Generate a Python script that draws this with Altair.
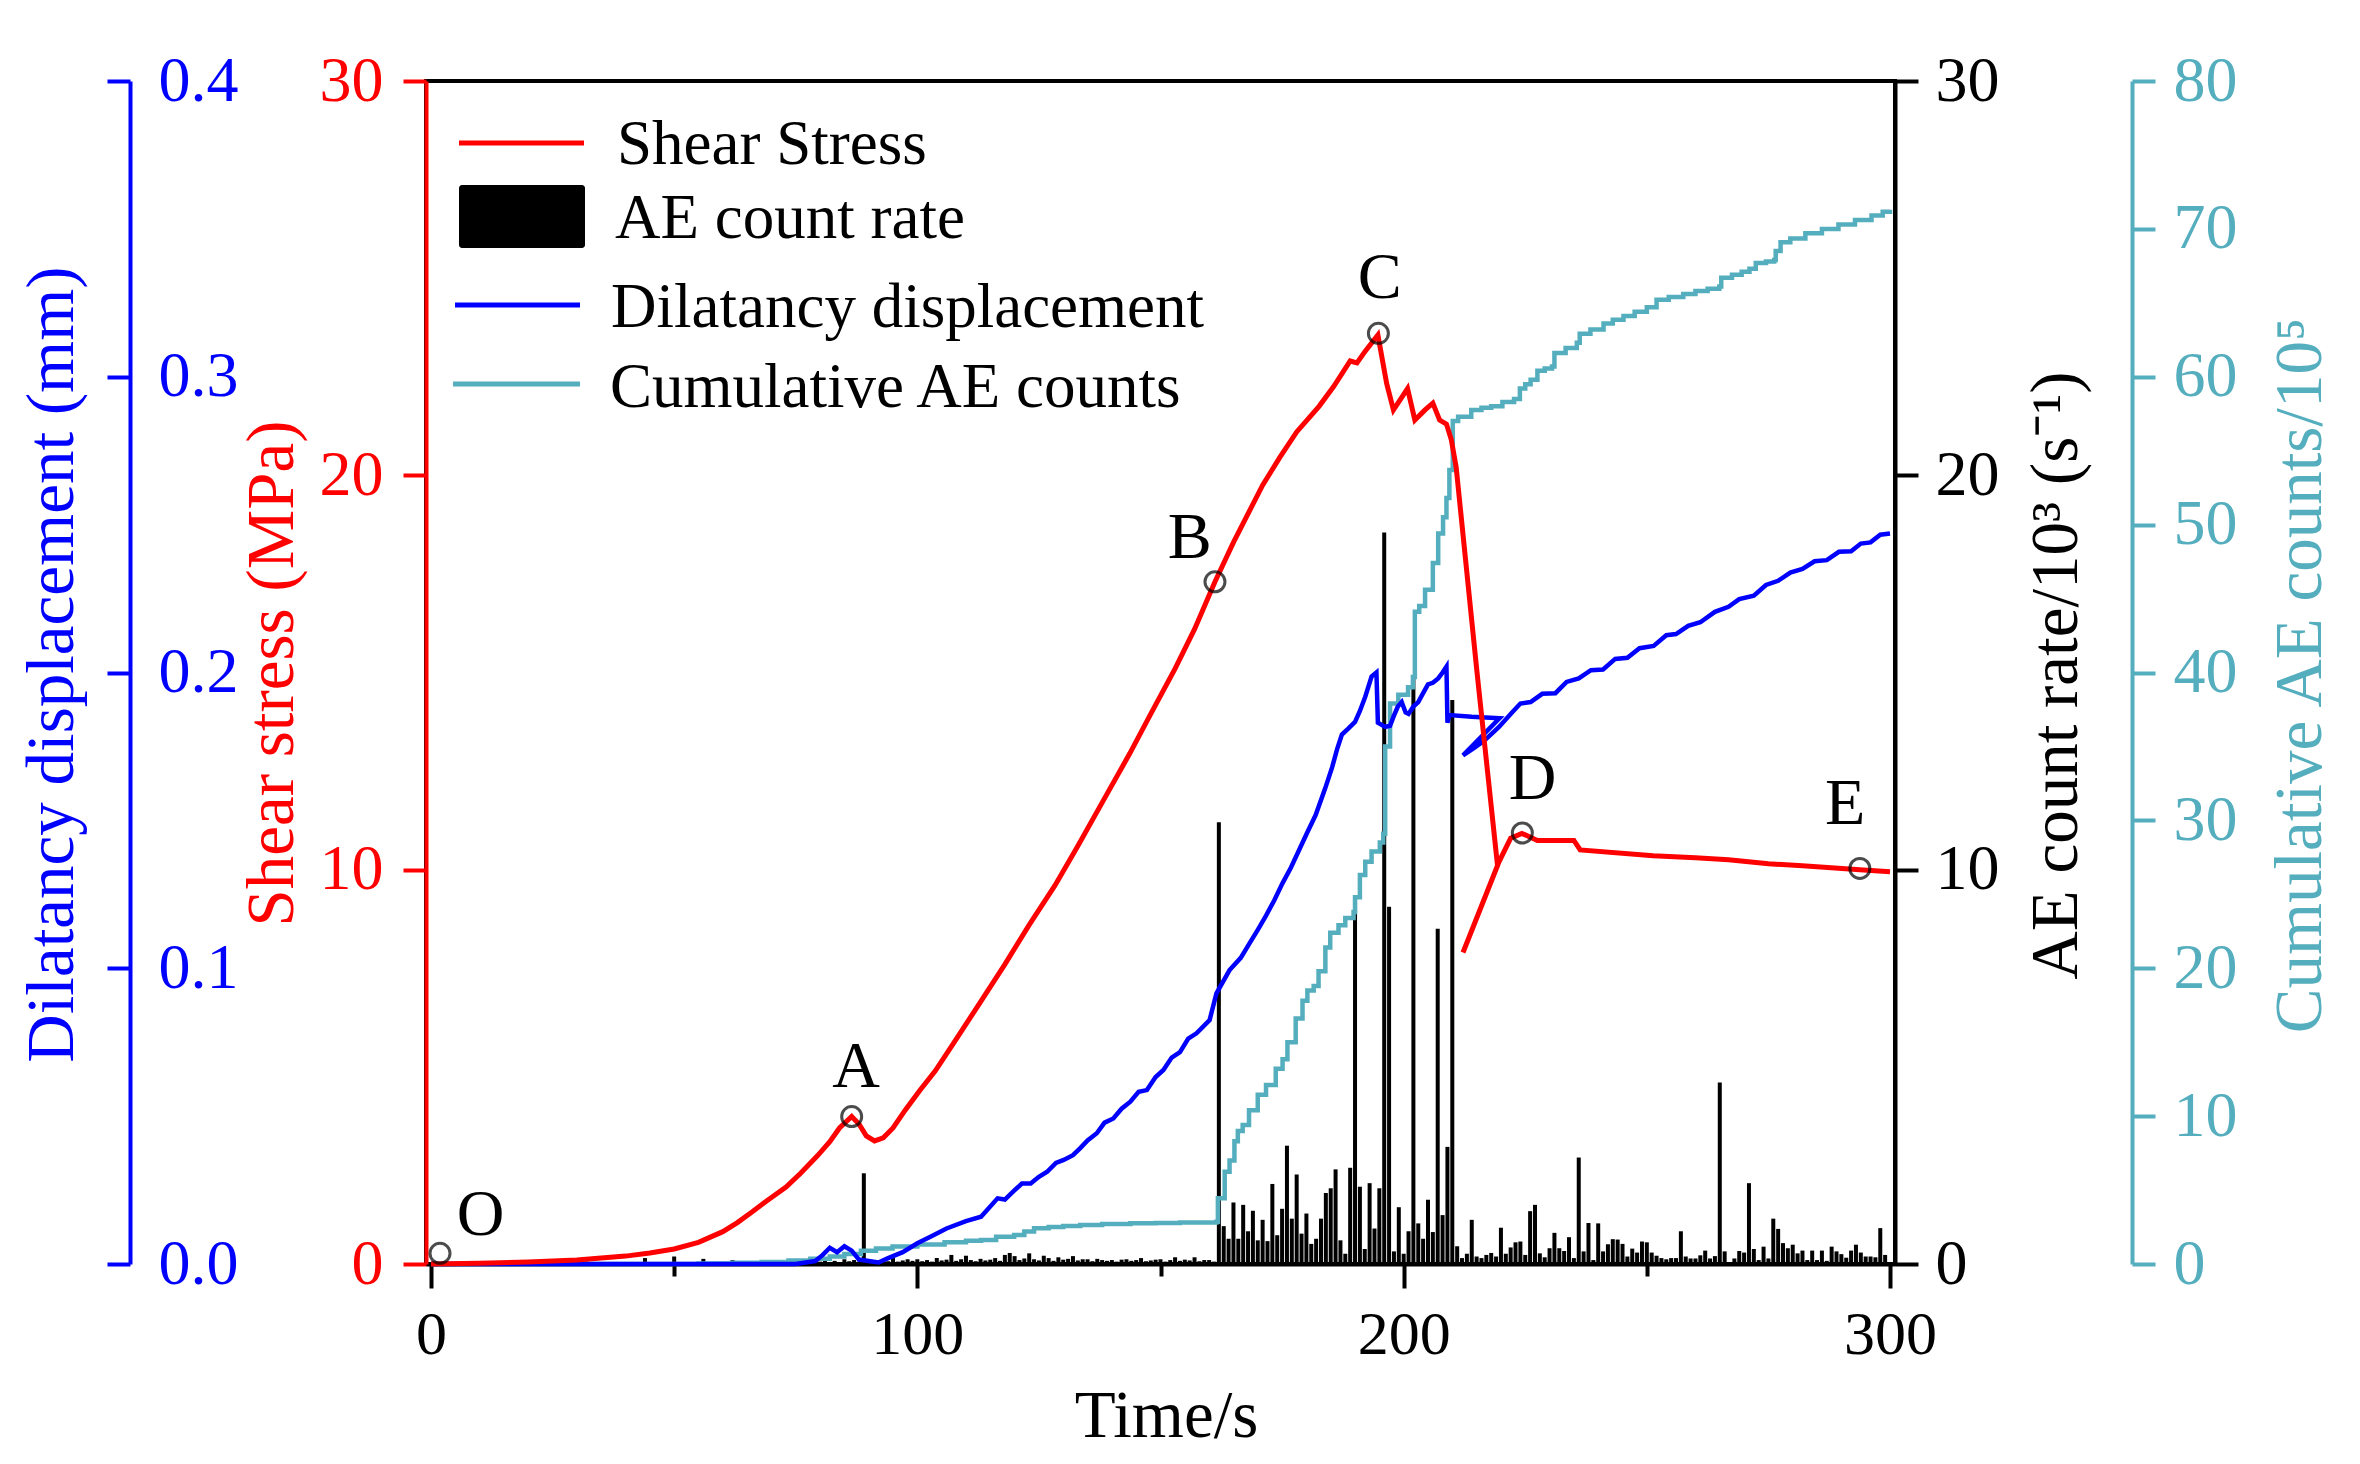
import altair as alt
import pandas as pd

# ---------------- data ----------------
stress_t = [0, 10, 20, 30, 40, 45, 50, 55, 60, 63, 66, 69, 73, 76, 79.5, 82, 84, 86.5, 88, 89.5,
            91.2, 93, 95, 97.5, 100.5, 103.7, 108, 113, 118, 123, 128.3, 133, 138, 143.7, 148, 153, 157, 161.2, 165, 168.3,
            171, 174.5, 178, 182.6, 185.6, 189, 190.4, 192.1, 194.7, 196.5, 197.9, 199.2, 200.8, 202.3, 204.4, 206, 207.4, 208.8, 209.8, 210.8,
            215, 219.3, 212.2, 219.6, 222, 224.3, 227.5, 235, 236.3, 251.3, 260, 266.8, 275, 282, 293.8, 300]
stress_v = [0, 0.02, 0.05, 0.1, 0.2, 0.28, 0.38, 0.55, 0.82, 1.05, 1.32, 1.6, 1.95, 2.3, 2.75, 3.1, 3.45, 3.74, 3.55, 3.25,
            3.12, 3.2, 3.45, 3.9, 4.4, 4.9, 5.7, 6.65, 7.6, 8.6, 9.6, 10.6, 11.7, 12.95, 13.95, 15.1, 16.1, 17.3, 18.3, 19.1,
            19.75, 20.45, 21.1, 21.75, 22.25, 22.9, 22.85, 23.15, 23.56, 22.33, 21.66, 21.9, 22.2, 21.4, 21.66, 21.83, 21.4, 21.3, 20.9, 20.2,
            15.1, 10.1, 7.9, 10.2, 10.8, 10.92, 10.74, 10.74, 10.5, 10.35, 10.3, 10.25, 10.15, 10.1, 10.0, 9.95]

dil_t = [0, 75, 79, 80.5, 82, 83.5, 85, 86.5, 88, 90, 92, 94, 97, 100, 103, 106, 110, 113.1, 116.5, 118,
         119.9, 121.5, 123.3, 125, 126.7, 128.5, 130.1, 132, 133.5, 135, 136.9, 138.5, 140.3, 142, 143.8, 145.5, 147.2, 149, 150.6, 152.3,
         154, 155.7, 157.4, 160.1, 161.5, 164.2, 166.5, 168.3, 170, 171.7, 173.4, 175.1, 176.8, 178.5, 180.2, 181.9, 183.9, 185.3, 186.3, 187.3,
         188.6, 190, 191, 192.1, 193.4, 194.4, 194.7, 196.2, 197.2, 197.9, 198.8, 199.6, 200.4, 201, 202, 203, 204, 205, 206, 207.1,
         208, 208.8, 209, 209.4, 214, 219.7, 212.2, 214.5, 216.6, 219.6, 222, 224, 226.1, 228.5, 231.2, 233.5, 236, 238.5, 241, 243.5,
         246, 248.5, 251.4, 254, 256, 258.5, 261, 264, 266.8, 269, 272, 274.5, 277, 279.5, 282, 284.5, 287, 289.5, 292, 294,
         296, 298, 300]
dil_v = [0, 0, 0.001, 0.003, 0.0055, 0.004, 0.006, 0.0045, 0.0015, 0.001, 0.0005, 0.002, 0.004, 0.007, 0.0095, 0.012, 0.0145, 0.016, 0.0222, 0.0218,
         0.0248, 0.0272, 0.0272, 0.0295, 0.0312, 0.0342, 0.0352, 0.0368, 0.0392, 0.0418, 0.0442, 0.0478, 0.0492, 0.0525, 0.0549, 0.0582, 0.0588, 0.0632, 0.0656, 0.0698,
         0.0716, 0.0762, 0.078, 0.0825, 0.0915, 0.0994, 0.1035, 0.1084, 0.113, 0.1178, 0.123, 0.1288, 0.134, 0.14, 0.146, 0.1518, 0.161, 0.168, 0.174, 0.179,
         0.181, 0.1833, 0.187, 0.1918, 0.1986, 0.2, 0.183, 0.1816, 0.182, 0.185, 0.1885, 0.19, 0.1865, 0.186, 0.1885, 0.19, 0.193, 0.196, 0.1965, 0.198,
         0.2, 0.202, 0.183, 0.1856, 0.185, 0.1845, 0.172, 0.1745, 0.177, 0.1816, 0.186, 0.1895, 0.19, 0.1928, 0.193, 0.1968, 0.198, 0.2008, 0.201, 0.2046,
         0.205, 0.2082, 0.209, 0.2126, 0.213, 0.2158, 0.217, 0.2205, 0.2222, 0.2248, 0.226, 0.2296, 0.231, 0.2338, 0.235, 0.2376, 0.238, 0.2408, 0.241, 0.2436,
         0.244, 0.2466, 0.247]

cum_t = [0, 47, 55, 62, 68, 73.5, 78, 82, 85, 88.4, 91.5, 94.9, 100, 105.6, 110, 113.1, 116.2, 119.9, 122, 124,
         127, 130, 133.5, 138, 143.8, 149, 154, 161.5, 161.8, 163.2, 164.2, 165.2, 165.9, 166.9, 168.2, 170, 171.7, 173.7, 175.1, 176.1,
         177.8, 179.2, 180.2, 181.5, 182.5, 183.9, 184.9, 186.6, 188, 189.7, 190, 191, 192.1, 193.4, 195.1, 195.8, 196.2, 197.2, 198.9, 200.9,
         201.9, 202.3, 203.2, 204.4, 206, 207.1, 208.1, 208.8, 209.4, 210.1, 211.2, 213.9, 216, 218, 220.3, 222.7, 223.9, 225, 226.1, 227.5,
         229, 230.5, 231, 233.3, 235.6, 236.2, 238.4, 241.1, 243, 245.2, 247.5, 250, 252, 254.5, 257.5, 260, 262.5, 264.9, 265.3, 267.5,
         269.5, 271.1, 272.4, 274.5, 276.2, 276.5, 277.5, 279.5, 282.6, 286, 289.4, 292.8, 296.2, 298.5, 300]
cum_v = [0, 0, 0.03, 0.08, 0.14, 0.23, 0.35, 0.5, 0.68, 0.9, 1.05, 1.18, 1.32, 1.47, 1.58, 1.62, 1.85, 1.96, 2.2, 2.41,
         2.5, 2.57, 2.64, 2.7, 2.75, 2.78, 2.8, 2.86, 4.44, 6.24, 7.0, 8.3, 9.0, 9.4, 10.4, 11.45, 12.1, 13.2, 13.85, 15.0,
         16.6, 17.8, 18.5, 18.8, 19.8, 21.4, 22.4, 22.9, 23.4, 23.8, 24.8, 26.3, 27.2, 27.9, 28.5, 29.1, 35.0, 37.9, 38.5, 39.0,
         39.7, 44.1, 44.5, 45.6, 47.4, 49.4, 50.5, 51.8, 53.7, 57.0, 57.3, 57.75, 57.9, 58.0, 58.3, 58.5, 59.2, 59.5, 59.8, 60.4,
         60.55, 60.7, 61.6, 61.95, 62.3, 62.9, 63.2, 63.6, 63.85, 64.1, 64.4, 64.7, 65.2, 65.4, 65.6, 65.8, 65.95, 66.1, 66.7, 66.9,
         67.1, 67.3, 67.7, 67.8, 67.9, 68.5, 69.1, 69.35, 69.7, 70.0, 70.3, 70.6, 70.9, 71.15, 71.3]

# AE count rate (10^3 /s), one bar per second from t = 20 s to t = 299 s
ae_start = 20
ae_v = [0.0, 0.02, 0.0, 0.05, 0.0, 0.01, 0.0, 0.02, 0.0, 0.0, 0.07, 0.0, 0.06, 0.0, 0.02, 0.0, 0.0, 0.03, 0.0, 0.0,
        0.02, 0.0, 0.04, 0.0, 0.15, 0.03, 0.0, 0.05, 0.02, 0.0, 0.19, 0.02, 0.0, 0.04, 0.0, 0.02, 0.13, 0.0, 0.03, 0.0,
        0.02, 0.04, 0.1, 0.0, 0.03, 0.05, 0.02, 0.0, 0.04, 0.06, 0.02, 0.0, 0.05, 0.03, 0.07, 0.02, 0.04, 0.08, 0.03, 0.05,
        0.06, 0.1, 0.04, 0.08, 0.05, 0.12, 0.07, 0.1, 0.06, 2.3, 0.12, 0.08, 0.05, 0.1, 0.07, 0.15, 0.06, 0.09, 0.12, 0.08,
        0.12, 0.07, 0.1, 0.06, 0.15, 0.09, 0.11, 0.23, 0.08, 0.12, 0.21, 0.1, 0.07, 0.13, 0.09, 0.11, 0.15, 0.08, 0.23, 0.28,
        0.2, 0.1, 0.14, 0.27, 0.12, 0.09, 0.21, 0.15, 0.08, 0.17, 0.11, 0.13, 0.2, 0.09, 0.12, 0.12, 0.07, 0.13, 0.1, 0.08,
        0.1, 0.06, 0.11, 0.12, 0.08, 0.1, 0.15, 0.07, 0.09, 0.11, 0.12, 0.06, 0.1, 0.17, 0.08, 0.11, 0.09, 0.17, 0.07, 0.1,
        0.1, 0.06,
        11.2, 0.96, 0.64, 1.56, 0.64, 1.5, 0.83, 1.35, 0.6, 1.12, 0.58, 2.03, 0.73, 1.4, 3.0, 1.15, 2.27, 0.77, 1.28, 0.51,
        0.64, 1.15, 1.8, 1.92, 2.4, 0.6, 0.26, 2.44, 9.17, 1.96, 0.38, 2.05, 0.9, 1.92, 18.55, 9.06, 0.32, 1.44, 0.26, 0.83,
        14.9, 1.03, 0.64, 1.63, 0.81, 8.5, 1.24, 2.97, 14.3, 0.45, 0.15, 0.26, 1.12, 0.19, 0.15, 0.23, 0.28, 0.19, 0.92, 0.26,
        0.42, 0.55,
        0.57, 0.23, 1.34, 1.5, 0.27, 0.17, 0.4, 0.79, 0.4, 0.33, 0.68, 0.15, 2.7, 0.32, 1.04, 0.1, 1.03, 0.32, 0.5, 0.63,
        0.62, 0.51, 0.19, 0.39, 0.29, 0.57, 0.55, 0.29, 0.21, 0.15, 0.12, 0.15, 0.15, 0.83, 0.19, 0.14, 0.14, 0.22, 0.34, 0.14,
        0.2, 4.6, 0.32, 0.05, 0.14, 0.33, 0.29, 2.05, 0.38, 0.1, 0.44, 0.14, 1.15, 0.89, 0.53, 0.4, 0.49, 0.27, 0.34, 0.1,
        0.34, 0.1, 0.34, 0.08, 0.44, 0.32, 0.25, 0.16, 0.34, 0.49, 0.29, 0.19, 0.19, 0.17, 0.91, 0.23]
ae_t = [ae_start + k for k in range(len(ae_v))]

pt_name = ["O", "A", "B", "C", "D", "E"]
pt_t = [1.85, 86.5, 161.2, 194.8, 224.4, 293.8]
pt_v = [0.27, 3.74, 17.3, 23.6, 10.93, 10.03]
lab_t = [10.2, 87.4, 156.0, 195.1, 226.5, 290.8]
lab_v = [1.25, 4.99, 18.41, 25.0, 12.31, 11.66]

legend_names = ["Shear Stress", "AE count rate", "Dilatancy displacement", "Cumulative AE counts"]

# ---------------- styling ----------------
RED, BLUE, TEAL, BLACK = "#FF0000", "#0000FF", "#54AEBE", "#000000"
FONT = "Liberation Serif"
W, H = 1469, 1183
TICK = 23

stress = pd.DataFrame({"t": stress_t, "v": stress_v, "i": list(range(len(stress_t)))})
dil = pd.DataFrame({"t": dil_t, "v": dil_v, "i": list(range(len(dil_t)))})
cum = pd.DataFrame({"t": cum_t, "v": cum_v})
ae = pd.DataFrame({"t": ae_t, "v": ae_v})
pts = pd.DataFrame({"name": pt_name, "t": pt_t, "v": pt_v})
labs = pd.DataFrame({"name": pt_name, "t": lab_t, "v": lab_v})

x_enc = alt.X(
    "t:Q",
    scale=alt.Scale(domain=[0, 300], nice=False, zero=False),
    axis=alt.Axis(
        values=[0, 50, 100, 150, 200, 250, 300],
        labelExpr="datum.value % 100 === 0 ? datum.label : ''",
        tickSize={"condition": {"test": "datum.value % 100 === 0", "value": 24}, "value": 12},
        tickWidth=4, tickColor=BLACK, domainWidth=4, domainColor=BLACK, grid=False,
        labelFont=FONT, labelFontSize=62, labelColor=BLACK, labelPadding=16, labelFlush=False,
        title="Time/s", titleFont=FONT, titleFontSize=67, titleFontWeight="normal", titleColor=BLACK,
        titleX=740, titleY=172, titleBaseline="alphabetic", titleAlign="center",
    ),
)


def yaxis(**kw):
    base = dict(tickSize=TICK, tickWidth=4, domainWidth=4, grid=False,
                labelFont=FONT, labelFontSize=64, titleFont=FONT, titleFontSize=67,
                titleFontWeight="normal", titleAngle=270, titleAlign="center",
                titleBaseline="alphabetic")
    base.update(kw)
    return alt.Axis(**base)


bars = alt.Chart(ae).mark_bar(width=4, color=BLACK).encode(
    x=x_enc,
    y=alt.Y("v:Q", scale=alt.Scale(domain=[0, 30], nice=False),
            axis=yaxis(orient="right", values=[0, 10, 20, 30], domainColor=BLACK, tickColor=BLACK,
                       labelColor=BLACK, labelPadding=17, title="AE count rate/10³ (s⁻¹)",
                       titleColor=BLACK, titleX=181, titleY=594)),
)

cum_line = alt.Chart(cum).mark_line(color=TEAL, strokeWidth=4.5, interpolate="step-after").encode(
    x=x_enc,
    y=alt.Y("v:Q", scale=alt.Scale(domain=[0, 80], nice=False),
            axis=yaxis(orient="right", offset=237, values=[0, 10, 20, 30, 40, 50, 60, 70, 80],
                       domainColor=TEAL, tickColor=TEAL, labelColor=TEAL, labelPadding=18,
                       title="Cumulative AE counts/10⁵", titleColor=TEAL, titleX=188, titleY=594)),
)

dil_line = alt.Chart(dil).mark_line(color=BLUE, strokeWidth=4.5).encode(
    x=x_enc,
    y=alt.Y("v:Q", scale=alt.Scale(domain=[0, 0.4], nice=False),
            axis=yaxis(orient="left", offset=296, values=[0, 0.1, 0.2, 0.3, 0.4], format=".1f",
                       domainColor=BLUE, tickColor=BLUE, labelColor=BLUE, labelAlign="left",
                       labelPadding=-51, title="Dilatancy displacement (mm)", titleColor=BLUE,
                       titleX=-58, titleY=583)),
    order=alt.Order("i:Q"),
)

stress_line = alt.Chart(stress).mark_line(color=RED, strokeWidth=5).encode(
    x=x_enc,
    y=alt.Y("v:Q", scale=alt.Scale(domain=[0, 30], nice=False),
            axis=yaxis(orient="left", values=[0, 10, 20, 30], domainColor=RED, tickColor=RED,
                       labelColor=RED, labelPadding=20, title="Shear stress (MPa)", titleColor=RED,
                       titleX=-134, titleY=592)),
    order=alt.Order("i:Q"),
)

markers = alt.Chart(pts).mark_point(shape="circle", filled=False, color=BLACK, size=400, strokeWidth=3).encode(
    x=x_enc,
    y=alt.Y("v:Q", scale=alt.Scale(domain=[0, 30], nice=False), axis=None),
)

marker_text = alt.Chart(labs).mark_text(font=FONT, fontSize=66, color=BLACK, align="center", baseline="middle").encode(
    x=x_enc,
    y=alt.Y("v:Q", scale=alt.Scale(domain=[0, 30], nice=False), axis=None),
    text="name:N",
)

one = pd.DataFrame({"k": [0]})
leg_red = alt.Chart(one).mark_rule(color=RED, strokeWidth=5).encode(
    x=alt.value(33), x2=alt.value(158), y=alt.value(62))
leg_bar = alt.Chart(one).mark_rect(color=BLACK, cornerRadius=3).encode(
    x=alt.value(33), x2=alt.value(159), y=alt.value(104), y2=alt.value(167))
leg_blue = alt.Chart(one).mark_rule(color=BLUE, strokeWidth=5).encode(
    x=alt.value(29), x2=alt.value(154), y=alt.value(224))
leg_teal = alt.Chart(one).mark_rule(color=TEAL, strokeWidth=5).encode(
    x=alt.value(27), x2=alt.value(154), y=alt.value(303))

leg_text_pos = [(191, 83), (189, 157), (185, 246), (184, 326)]
leg_texts = []
for name, (lx, ly) in zip(legend_names, leg_text_pos):
    leg_texts.append(
        alt.Chart(pd.DataFrame({"label": [name]})).mark_text(
            font=FONT, fontSize=63, color=BLACK, align="left", baseline="alphabetic"
        ).encode(text="label:N", x=alt.value(lx), y=alt.value(ly))
    )

chart = alt.layer(
    bars, cum_line, dil_line, stress_line, markers, marker_text,
    leg_red, leg_bar, leg_blue, leg_teal, *leg_texts,
).resolve_scale(y="independent").properties(
    width=W, height=H,
    autosize=alt.AutoSizeParams(type="none"),
    padding={"left": 418, "top": 73, "right": 455, "bottom": 190},
    background="white",
).configure(font=FONT).configure_axis(labelFont=FONT, titleFont=FONT).configure_text(font=FONT).configure_view(
    stroke=BLACK, strokeWidth=4)

chart.save("out.html", embed_options={"renderer": "svg", "actions": False})
